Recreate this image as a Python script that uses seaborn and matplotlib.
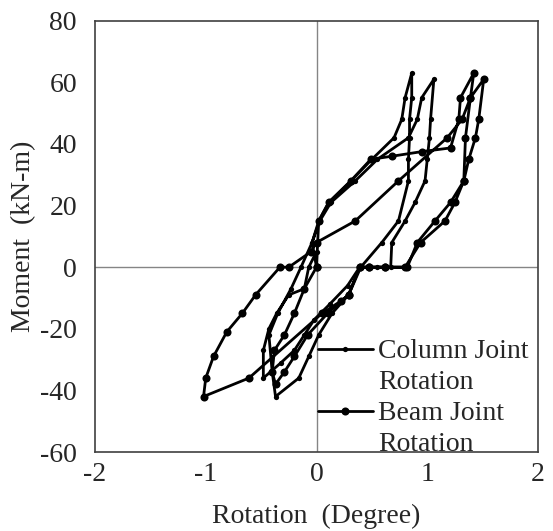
import matplotlib
matplotlib.use("Agg")
import matplotlib.pyplot as plt
from matplotlib.lines import Line2D
import seaborn as sns
import pandas as pd

# ---- data ----
col_x = [0.00, -0.04, 0.02, 0.11, 0.31, 0.50, 0.70, 0.77, 0.80, 0.86,
         0.86, 0.84, 0.84, 0.83, 0.83, 0.74, 0.59, 0.40, 0.29, 0.14, 0.02, -0.07, -0.16, -0.37,
         -0.40, -0.43, -0.35, -0.23, -0.14,
         -0.04, 0.03, 0.13, 0.35, 0.55, 0.83, 0.91, 0.95, 1.06,
         1.03, 1.02, 1.00, 0.98, 0.89, 0.80, 0.68, 0.67, 0.55, 0.47, 0.39,
         0.28, 0.12, -0.02, -0.11, -0.20, -0.32, -0.48,
         -0.48, -0.43, -0.36, -0.25, -0.11, -0.07, 0.00]
col_y = [0, 8, 15, 21, 28, 35, 42, 48, 55, 63,
         55, 48, 42, 35, 28, 15, 8, 0, -9, -15, -22, -29, -36, -42,
         -34, -22, -15, -7, 0,
         8, 15, 21, 28, 35, 42, 48, 55, 61,
         48, 42, 35, 28, 21, 15, 8, 0, 0, 0, 0,
         -6, -12, -17, -22, -27, -31, -36,
         -27, -20, -15, -9, -7, 0, 5]

beam_x = [0.00, 0.02, 0.11, 0.31, 0.49, 0.68, 0.95, 1.21, 1.285, 1.30, 1.42,
          1.39, 1.345, 1.33, 1.21, 1.07, 0.91, 0.82, 0.62, 0.47, 0.39,
          0.29, 0.22, 0.05, -0.61, -1.02,
          -1.00, -0.93, -0.81, -0.67, -0.55, -0.33, -0.25, -0.05, 0.00,
          0.35, 0.74, 1.18, 1.315, 1.39, 1.51,
          1.465, 1.435, 1.375, 1.33, 1.25, 1.16, 0.94, 0.80, 0.62, 0.47, 0.39,
          0.29, 0.10, -0.08, -0.20, -0.29, -0.37,
          -0.40, -0.38, -0.29, -0.20, -0.11, 0.00]
beam_y = [0, 15, 21, 28, 35, 36, 37.5, 38.7, 48, 55, 63,
          55, 42, 28, 21, 15, 8, 0, 0, 0, 0,
          -9, -11, -15, -36, -42,
          -36, -29, -21, -15, -9, 0, 0, 5, 8,
          15, 28, 42, 48, 55, 61,
          48, 42, 35, 28, 21, 15, 8, 0, 0, 0, 0,
          -9, -15, -22, -29, -34, -38,
          -34, -27, -22, -15, -7, 0]

series_names = ["Column Joint Rotation", "Beam Joint Rotation"]
x_ticks = [-2, -1, 0, 1, 2]
y_ticks = [-60, -40, -20, 0, 20, 40, 60, 80]

df_col = pd.DataFrame({"x": col_x, "y": col_y})
df_beam = pd.DataFrame({"x": beam_x, "y": beam_y})

# ---- style ----
sns.set_style("white")
plt.rcParams["font.family"] = ["Liberation Serif", "DejaVu Serif"]
FS = 20
LW = 2.0
MS_COL = 3.8
MS_BEAM = 5.8

fig = plt.figure(figsize=(5.53, 5.31), dpi=100)
ax = fig.add_axes([95 / 553, 1 - 452 / 531, (538 - 95) / 553, (452 - 20.7) / 531])

ax.axhline(0, color="#858585", lw=1.0, zorder=1)
ax.axvline(0, color="#858585", lw=1.0, zorder=1)

sns.lineplot(data=df_col, x="x", y="y", sort=False, estimator=None, ax=ax,
             color="black", lw=LW, marker="o", markersize=MS_COL,
             markeredgewidth=0, zorder=3)
sns.lineplot(data=df_beam, x="x", y="y", sort=False, estimator=None, ax=ax,
             color="black", lw=LW, marker="o", markersize=MS_BEAM,
             markeredgewidth=0, zorder=3)

ax.set_xlim(-2, 2)
ax.set_ylim(-60, 80)
ax.set_xticks(x_ticks)
ax.set_yticks(y_ticks)
ax.set_xticklabels([str(t) for t in x_ticks], fontsize=FS)
ax.set_yticklabels([str(t) for t in y_ticks], fontsize=FS)
ax.tick_params(axis="both", length=0)
ax.tick_params(axis="y", pad=13)
ax.tick_params(axis="x", pad=7)

for s in ax.spines.values():
    s.set_color("#404040")
    s.set_linewidth(1.2)

ax.set_xlabel("Rotation  (Degree)", fontsize=FS, labelpad=12)
ax.set_ylabel("Moment  (kN-m)", fontsize=FS, labelpad=3)

# legend: handle aligned with first text line
blank = Line2D([], [], color="none")
h_col = Line2D([], [], color="black", lw=LW, marker="o", markersize=MS_COL, markeredgewidth=0)
h_beam = Line2D([], [], color="black", lw=LW, marker="o", markersize=MS_BEAM, markeredgewidth=0)
leg = ax.legend([h_col, blank, h_beam, blank],
                ["Column Joint", "Rotation", "Beam Joint", "Rotation"],
                loc="upper left", bbox_to_anchor=(0.503, 0.262), frameon=False,
                fontsize=FS, handlelength=1.98, handletextpad=0.18,
                labelspacing=0.2, borderpad=0, borderaxespad=0)

fig.savefig("out.png", dpi=100)
